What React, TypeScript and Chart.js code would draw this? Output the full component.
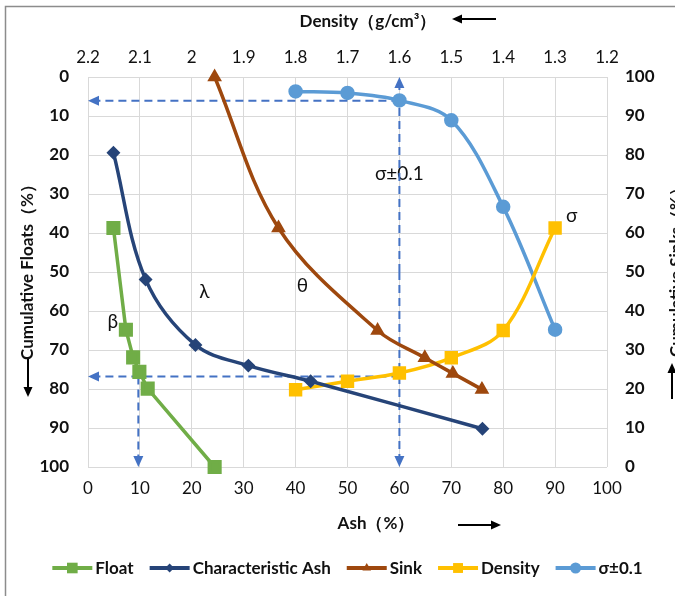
import React, { useEffect, useRef } from "react";
import { Chart, registerables } from "chart.js";

Chart.register(...registerables);

// ---------- data ----------
const floatAsh = [4.9, 7.3, 8.7, 9.9, 11.5, 24.4];
const floatYield = [38.7, 64.8, 71.9, 75.6, 79.9, 100];

const charAsh = [4.9, 11.1, 20.7, 30.9, 42.9, 76.0];
const charYield = [19.4, 51.9, 68.7, 74.0, 78.0, 90.2];

const sinkAsh = [24.4, 36.7, 55.8, 64.9, 70.3, 75.9];
const sinkYield = [100, 61.3, 35.0, 28.0, 24.0, 19.9];

const densities = [1.8, 1.7, 1.6, 1.5, 1.4, 1.3];
const densityFloats = [80.2, 78.0, 75.9, 72.0, 65.0, 38.7];
const nearGravity = [3.7, 4.1, 6.0, 11.1, 33.3, 64.8];

const ashTicks = [0, 10, 20, 30, 40, 50, 60, 70, 80, 90, 100];
const densityTicks = [2.2, 2.1, 2.0, 1.9, 1.8, 1.7, 1.6, 1.5, 1.4, 1.3, 1.2];

// guide arrows (ash %, cumulative floats %), head at "to"
const guideFromAsh = [60, 60, 9.7, 60, 60];
const guideFromFloats = [6.1, 76.8, 76.8, 50, 50];
const guideToAsh = [0, 0, 9.7, 60, 60];
const guideToFloats = [6.1, 76.8, 100, 0, 100];

// curve labels (ash %, cumulative floats %)
const noteTexts = ["σ±0.1", "λ", "θ", "β", "σ"];
const noteAsh = [60, 22.4, 41.3, 4.8, 93.2];
const noteFloats = [24.8, 55.1, 53.5, 62.7, 35.6];

const FONT = 'Lato, "Open Sans", "Noto Sans", sans-serif';
const TXT = "#111111";
const GUIDE = "#4472C4";

function pts(xs: number[], ys: number[]) {
  return xs.map((x, i) => ({ x, y: ys[i] }));
}

function drawMarker(ctx: CanvasRenderingContext2D, style: string, r: number, x: number, y: number, color: string) {
  ctx.save();
  ctx.fillStyle = color;
  ctx.beginPath();
  if (style === "rect") {
    const s = Math.SQRT1_2 * r;
    ctx.rect(x - s, y - s, 2 * s, 2 * s);
  } else if (style === "rectRot") {
    ctx.moveTo(x, y - r);
    ctx.lineTo(x + r, y);
    ctx.lineTo(x, y + r);
    ctx.lineTo(x - r, y);
    ctx.closePath();
  } else if (style === "triangle") {
    for (let k = 0; k < 3; k++) {
      const a = -Math.PI / 2 + (k * 2 * Math.PI) / 3;
      const px = x + Math.cos(a) * r;
      const py = y + Math.sin(a) * r;
      if (k === 0) ctx.moveTo(px, py);
      else ctx.lineTo(px, py);
    }
    ctx.closePath();
  } else {
    ctx.arc(x, y, r, 0, Math.PI * 2);
  }
  ctx.fill();
  ctx.restore();
}

function arrow(
  ctx: CanvasRenderingContext2D,
  x1: number, y1: number, x2: number, y2: number,
  color: string, lw: number, dash: number[], headLen: number, headHalf: number
) {
  const dx = x2 - x1, dy = y2 - y1;
  const len = Math.hypot(dx, dy);
  if (len === 0) return;
  const ux = dx / len, uy = dy / len;
  const bx = x2 - ux * headLen, by = y2 - uy * headLen;
  ctx.save();
  ctx.strokeStyle = color;
  ctx.fillStyle = color;
  ctx.lineWidth = lw;
  ctx.setLineDash(dash);
  ctx.beginPath();
  ctx.moveTo(x1, y1);
  ctx.lineTo(bx + ux * 1, by + uy * 1);
  ctx.stroke();
  ctx.setLineDash([]);
  ctx.beginPath();
  ctx.moveTo(x2, y2);
  ctx.lineTo(bx - uy * headHalf, by + ux * headHalf);
  ctx.lineTo(bx + uy * headHalf, by - ux * headHalf);
  ctx.closePath();
  ctx.fill();
  ctx.restore();
}

const overlay = {
  id: "overlay",
  beforeDatasetsDraw(chart: any) {
    const ctx: CanvasRenderingContext2D = chart.ctx;
    const xs = chart.scales.x;
    const ys = chart.scales.y;
    ctx.save();
    ctx.font = `19px ${FONT}`;
    ctx.fillStyle = TXT;
    ctx.textAlign = "center";
    ctx.textBaseline = "middle";
    noteTexts.forEach((t, i) => {
      ctx.fillText(t, xs.getPixelForValue(noteAsh[i]), ys.getPixelForValue(noteFloats[i]));
    });
    ctx.restore();
    guideFromAsh.forEach((_, i) => {
      arrow(
        ctx,
        xs.getPixelForValue(guideFromAsh[i]),
        ys.getPixelForValue(guideFromFloats[i]),
        xs.getPixelForValue(guideToAsh[i]),
        ys.getPixelForValue(guideToFloats[i]),
        GUIDE, 2, [8, 5], 11, 5
      );
    });
  },
  afterDraw(chart: any) {
    const ctx: CanvasRenderingContext2D = chart.ctx;
    const area = chart.chartArea;
    ctx.save();
    // outer frame
    ctx.strokeStyle = "#8c8c8c";
    ctx.lineWidth = 1.5;
    ctx.strokeRect(5.5, 6.5, 720, 640);

    ctx.fillStyle = TXT;
    ctx.font = `bold 17px ${FONT}`;
    ctx.textBaseline = "middle";
    ctx.textAlign = "center";
    // top title
    ctx.fillText("Density（g/cm³）", 368, 22);
    arrow(ctx, 496, 19, 452, 19, "#000", 2, [], 10, 4.5);
    // bottom title
    ctx.fillText("Ash（%）", 376, 524);
    arrow(ctx, 458, 525, 501, 525, "#000", 2, [], 10, 4.5);
    // left title
    ctx.save();
    ctx.translate(28, 268);
    ctx.rotate(-Math.PI / 2);
    ctx.fillText("Cumulative Floats（%）", 0, 0);
    ctx.restore();
    arrow(ctx, 28, 359, 28, 397, "#000", 2, [], 10, 4.5);
    // right title (partly outside the picture, as in the original)
    ctx.save();
    ctx.translate(677, 268);
    ctx.rotate(-Math.PI / 2);
    ctx.fillText("Cumulative Sinks（%）", 0, 0);
    ctx.restore();
    arrow(ctx, 672, 399, 672, 363, "#000", 2, [], 10, 4.5);

    // legend
    const items = chart.data.datasets.map((d: any) => ({
      label: d.label, color: d.borderColor, style: d.pointStyle, r: d.pointRadius,
    }));
    ctx.font = `bold 17px ${FONT}`;
    const sample = 40, gapText = 3, gapItem = 16;
    const widths = items.map((it: any) => sample + gapText + ctx.measureText(it.label).width);
    const total = widths.reduce((a: number, b: number) => a + b, 0) + gapItem * (items.length - 1);
    let lx = (area.left + area.right) / 2 - total / 2;
    const ly = 568;
    ctx.textAlign = "left";
    items.forEach((it: any, i: number) => {
      ctx.strokeStyle = it.color;
      ctx.lineWidth = 4;
      ctx.beginPath();
      ctx.moveTo(lx, ly);
      ctx.lineTo(lx + sample, ly);
      ctx.stroke();
      drawMarker(ctx, it.style, it.r, lx + sample / 2, ly, it.color);
      ctx.fillStyle = TXT;
      ctx.fillText(it.label, lx + sample + gapText, ly + 1);
      lx += widths[i] + gapItem;
    });
    ctx.restore();
  },
};

export default function App() {
  const ref = useRef<HTMLCanvasElement | null>(null);

  useEffect(() => {
    if (!ref.current) return;
    const common = { borderWidth: 3.5, clip: false as any, fill: false };
    const chart = new Chart(ref.current, {
      type: "line",
      data: {
        datasets: [
          {
            ...common,
            label: "Float",
            data: pts(floatAsh, floatYield),
            borderColor: "#70AD47",
            backgroundColor: "#70AD47",
            pointStyle: "rect",
            pointRadius: 7.5,
            tension: 0,
            xAxisID: "x",
            yAxisID: "y",
          },
          {
            ...common,
            label: "Characteristic Ash",
            data: pts(charAsh, charYield),
            borderColor: "#264478",
            backgroundColor: "#264478",
            pointStyle: "rectRot",
            pointRadius: 4.5,
            tension: 0.35,
            xAxisID: "x",
            yAxisID: "y",
          },
          {
            ...common,
            label: "Sink",
            data: pts(sinkAsh, sinkYield),
            borderColor: "#9E480E",
            backgroundColor: "#9E480E",
            pointStyle: "triangle",
            pointRadius: 5,
            tension: 0.35,
            xAxisID: "x",
            yAxisID: "y2",
          },
          {
            ...common,
            label: "Density",
            data: pts(densities, densityFloats),
            borderColor: "#FFC000",
            backgroundColor: "#FFC000",
            pointStyle: "rect",
            pointRadius: 7,
            tension: 0.35,
            xAxisID: "x2",
            yAxisID: "y",
          },
          {
            ...common,
            label: "σ±0.1",
            data: pts(densities, nearGravity),
            borderColor: "#5B9BD5",
            backgroundColor: "#5B9BD5",
            pointStyle: "circle",
            pointRadius: 5.5,
            tension: 0.35,
            xAxisID: "x2",
            yAxisID: "y",
          },
        ] as any,
      },
      options: {
        animation: false,
        responsive: false,
        devicePixelRatio: 1,
        layout: { padding: 0 },
        parsing: true,
        plugins: { legend: { display: false }, tooltip: { enabled: false } },
        scales: {
          x: {
            type: "linear",
            position: "bottom",
            min: 0,
            max: 100,
            afterBuildTicks: (s: any) => { s.ticks = ashTicks.map((v) => ({ value: v })); },
            afterFit: (s: any) => { s.height = 129; },
            grid: { color: "#D9D9D9", lineWidth: 1, drawTicks: false },
            border: { display: false },
            ticks: { padding: 11, color: TXT, font: { family: FONT, size: 17 } },
          },
          x2: {
            type: "linear",
            position: "top",
            min: 1.2,
            max: 2.2,
            reverse: true,
            afterBuildTicks: (s: any) => { s.ticks = densityTicks.map((v) => ({ value: v })); },
            afterFit: (s: any) => { s.height = 77; },
            grid: { display: false, drawTicks: false },
            border: { display: false },
            ticks: {
              padding: 9,
              color: TXT,
              font: { family: FONT, size: 17 },
              callback: (v: any) => String(Number(Number(v).toFixed(1))),
            },
          },
          y: {
            type: "linear",
            position: "left",
            min: 0,
            max: 100,
            reverse: true,
            afterBuildTicks: (s: any) => { s.ticks = ashTicks.map((v) => ({ value: v })); },
            afterFit: (s: any) => { s.width = 88; },
            grid: { color: "#D9D9D9", lineWidth: 1, drawTicks: false },
            border: { display: false },
            ticks: { padding: 19, color: TXT, font: { family: FONT, size: 17, weight: "bold" } },
          },
          y2: {
            type: "linear",
            position: "right",
            min: 0,
            max: 100,
            afterBuildTicks: (s: any) => { s.ticks = ashTicks.map((v) => ({ value: v })); },
            afterFit: (s: any) => { s.width = 68; },
            grid: { display: false, drawTicks: false },
            border: { display: false },
            ticks: { padding: 18, color: TXT, font: { family: FONT, size: 17, weight: "bold" } },
          },
        },
      } as any,
      plugins: [overlay],
    });
    return () => chart.destroy();
  }, []);

  return (
    <div style={{ position: "fixed", left: 0, top: 0, width: 675, height: 596, overflow: "hidden", background: "#fff" }}>
      <canvas ref={ref} width={675} height={596} style={{ display: "block", width: 675, height: 596 }} />
    </div>
  );
}
